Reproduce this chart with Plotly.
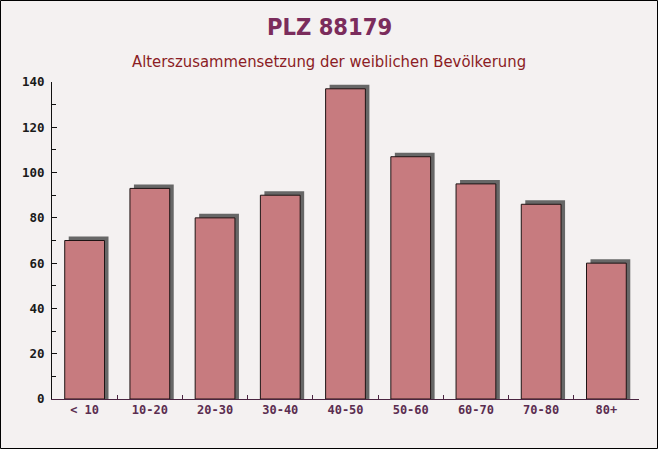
import plotly.graph_objects as go

categories = ["< 10", "10-20", "20-30", "30-40", "40-50", "50-60", "60-70", "70-80", "80+"]
values = [70, 93, 80, 90, 137, 107, 95, 86, 60]

W, H = 658, 449
L, R, T, B = 52, 19, 82, 50
pw, ph = W - L - R, H - T - B

bar_w = 0.61
shadow_dx = 4 / (pw / len(categories))
shadow_dy = 4 / (ph / 140)

def py(p):
    return (T + ph - p) / ph

fig = go.Figure()
fig.add_trace(go.Bar(
    x=categories, y=[v + shadow_dy for v in values],
    width=bar_w, offset=-bar_w / 2 + shadow_dx,
    marker=dict(color="#676767", line=dict(width=0)),
    hoverinfo="skip", showlegend=False))
fig.add_trace(go.Bar(
    x=categories, y=values,
    width=bar_w, offset=-bar_w / 2,
    marker=dict(color="#c77b7f", line=dict(color="#1e1414", width=1)),
    showlegend=False))

fig.update_layout(
    width=W, height=H,
    margin=dict(l=L, r=R, t=T, b=B),
    barmode="overlay",
    paper_bgcolor="#f4f1f1",
    plot_bgcolor="#f4f1f1",
    xaxis=dict(
        showline=True, linecolor="#4a2440", linewidth=1,
        ticks="inside", ticklen=4, tickcolor="#4a2440", tickson="boundaries",
        tickfont=dict(family="DejaVu Sans Mono", size=12, color="#5b2d50", weight="bold"),
        showgrid=False, zeroline=False),
    yaxis=dict(
        range=[0, 140], dtick=20,
        showline=True, linecolor="#111111", linewidth=1,
        ticks="inside", ticklen=5, tickcolor="#111111",
        minor=dict(dtick=10, ticks="inside", ticklen=4, tickcolor="#111111"),
        tickfont=dict(family="DejaVu Sans Mono", size=12.5, color="#1a1a1a", weight="bold"),
        ticklabelstandoff=4,
        showgrid=False, zeroline=False),
    annotations=[
        dict(text="<b>PLZ 88179</b>", xref="paper", yref="paper",
             x=(329 - L) / pw, y=py(27), xanchor="center", yanchor="middle",
             showarrow=False, font=dict(family="DejaVu Sans Condensed", size=23.5, color="#7b2c5c")),
        dict(text="Alterszusammensetzung der weiblichen Bevölkerung", xref="paper", yref="paper",
             x=(329 - L) / pw, y=py(62), xanchor="center", yanchor="middle",
             showarrow=False, font=dict(family="DejaVu Sans Condensed", size=16.5, color="#8b1c24")),
    ],
    shapes=[dict(
        type="rect", xref="paper", yref="paper",
        x0=(0.5 - L) / pw, x1=(W - 0.5 - L) / pw,
        y0=py(H - 0.5), y1=py(0.5),
        line=dict(color="#000000", width=1), layer="below")],
)

fig.write_html("out.html", config={"displayModeBar": False},
               post_script="document.body.style.margin='0';document.body.style.padding='0';")
